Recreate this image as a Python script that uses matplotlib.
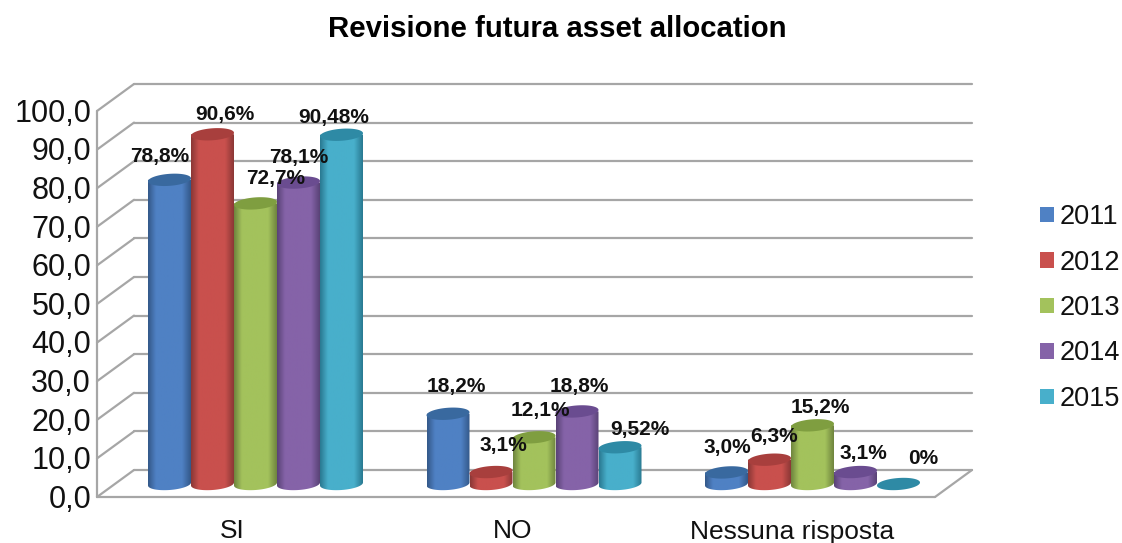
import numpy as np
import matplotlib
matplotlib.use("Agg")
import matplotlib.pyplot as plt
from matplotlib.colors import LinearSegmentedColormap
from matplotlib.patches import Patch, Polygon

# ============================================================
# DATA
# ============================================================

categories = ["SI", "NO", "Nessuna risposta"]
years = ["2011", "2012", "2013", "2014", "2015"]

values_2011 = [78.8, 18.2, 3.0]
values_2012 = [90.6, 3.1, 6.3]
values_2013 = [72.7, 12.1, 15.2]
values_2014 = [78.1, 18.8, 3.1]
values_2015 = [90.48, 9.52, 0.0]

labels_2011 = ["78,8%", "18,2%", "3,0%"]
labels_2012 = ["90,6%", "3,1%", "6,3%"]
labels_2013 = ["72,7%", "12,1%", "15,2%"]
labels_2014 = ["78,1%", "18,8%", "3,1%"]
labels_2015 = ["90,48%", "9,52%", "0%"]

y_ticks = [0, 10, 20, 30, 40, 50, 60, 70, 80, 90, 100]
y_tick_labels = ["0,0", "10,0", "20,0", "30,0", "40,0", "50,0",
                 "60,0", "70,0", "80,0", "90,0", "100,0"]

all_values = [values_2011, values_2012, values_2013, values_2014, values_2015]
all_labels = [labels_2011, labels_2012, labels_2013, labels_2014, labels_2015]

# ============================================================
# STYLE
# ============================================================

plt.rcParams['font.family'] = ['Liberation Sans', 'DejaVu Sans']

body_colors = ['#4F81C4', '#C9504D', '#A3C25C', '#8563A8', '#48AFCB']
edge_colors = ['#34598A', '#8C3836', '#70863F', '#5A4377', '#2A7A92']
top_colors = ['#39699F', '#A83F3D', '#7F9E40', '#6A4C90', '#2E8AA5']

grid_color = '#A6A6A6'

# label offsets from the top of each bar, pixels (rows = years)
label_dx = [[-10, 8, 1], [12, 12, 5], [20, 6, 8], [0, 2, 8], [-8, 20, 25]]
label_dy = [[23, 27, 25], [20, 27, 23], [25, 27, 18], [25, 25, 19], [17, 18, 26]]

# ============================================================
# SCALES
# ============================================================

W, H = 1122, 543
group_px = 278.5
unit_px = 3.86
x0_px = 255.5
y0_px = 484.0

bar_w = 43.0 / group_px
ell_b = 6.0 / unit_px
ell_tilt = 1.5 / unit_px

x_left = (97 - x0_px) / group_px
x_right = (935 - x0_px) / group_px
depth_x = 37 / group_px
front_dy = -(497 - y0_px) / unit_px
back_dy = (y0_px - 470) / unit_px

fig = plt.figure(figsize=(W / 100, H / 100), dpi=100)
ax = fig.add_axes([0, 0, 1, 1])
ax.axis('off')
xlim = (-x0_px / group_px, (W - x0_px) / group_px)
ylim = (-(H - y0_px) / unit_px, y0_px / unit_px)

# ============================================================
# WALLS
# ============================================================

line_kw = dict(color=grid_color, lw=1.6, zorder=1, solid_capstyle='round')

for v in y_ticks:
    ax.plot([x_left + depth_x, x_right + depth_x], [v + back_dy, v + back_dy], **line_kw)
    ax.plot([x_left, x_left + depth_x], [v + front_dy, v + back_dy], **line_kw)

ax.plot([x_left, x_left], [front_dy, 100 + front_dy], **line_kw)
ax.plot([x_left, x_right], [front_dy, front_dy], **line_kw)
ax.plot([x_right, x_right + depth_x], [front_dy, back_dy], **line_kw)

for v, lab in zip(y_ticks, y_tick_labels):
    ax.text(x_left - 6 / group_px, v + front_dy - 0.7, lab, ha='right', va='center',
            fontsize=22, color='#111111')

for i, cat in enumerate(categories):
    ax.text((i * 280 - 23) / group_px, ylim[0] + 11.5 / unit_px, cat, ha='center', va='center',
            fontsize=19, color='#111111')

# ============================================================
# CYLINDERS
# ============================================================

t = np.linspace(0, 2 * np.pi, 120)
lower = t[60:]

for s in range(len(years)):
    cmap = LinearSegmentedColormap.from_list(
        'cyl', [edge_colors[s], body_colors[s], body_colors[s], edge_colors[s]])
    grad = np.interp(np.linspace(0, 1, 64), [0, 0.18, 0.8, 1], [0, 0.33, 0.67, 1])[None, :]

    for g in range(len(categories)):
        v = all_values[s][g]
        cx = g + (s - 2) * bar_w
        z = 3 + s

        if v > 0:
            xs = cx + bar_w / 2 * np.cos(lower)
            ys = ell_b * np.sin(lower) + ell_tilt * np.cos(lower)
            body_x = np.concatenate([xs, [cx + bar_w / 2, cx - bar_w / 2]])
            body_y = np.concatenate([ys, [v, v]])
            im = ax.imshow(grad, cmap=cmap, vmin=0, vmax=1, aspect='auto',
                           extent=(cx - bar_w / 2, cx + bar_w / 2, -ell_b * 1.5, v),
                           zorder=z, interpolation='bilinear')
            clip = Polygon(np.column_stack([body_x, body_y]), closed=True,
                           transform=ax.transData, facecolor='none', edgecolor='none')
            ax.add_patch(clip)
            im.set_clip_path(clip)

        top = np.column_stack([cx + bar_w / 2 * np.cos(t),
                               v + ell_b * np.sin(t) + ell_tilt * np.cos(t)])
        ax.add_patch(Polygon(top, closed=True, facecolor=top_colors[s],
                             edgecolor='none', zorder=z + 0.5))

# ============================================================
# DATA LABELS
# ============================================================

for s in range(len(years)):
    for g in range(len(categories)):
        ax.annotate(all_labels[s][g],
                    xy=(g + (s - 2) * bar_w, all_values[s][g]),
                    xytext=(label_dx[s][g], label_dy[s][g]),
                    textcoords='offset pixels',
                    ha='center', va='center', fontsize=15,
                    fontweight='bold', color='#111111', zorder=20)

# ============================================================
# LEGEND, TITLE
# ============================================================

handles = [Patch(facecolor=c, edgecolor='none', label=y)
           for c, y in zip(body_colors, years)]
ax.legend(handles=handles, loc='center left',
          bbox_to_anchor=(1040 / W, 1 - 308 / H), bbox_transform=fig.transFigure,
          frameon=False, fontsize=19.5, handlelength=0.52, handleheight=0.52,
          handletextpad=0.2, labelspacing=0.72, borderpad=0, borderaxespad=0,
          labelcolor='#111111')

fig.text(557 / W, 1 - 29 / H, "Revisione futura asset allocation", ha='center', va='center',
         fontsize=21.2, fontweight='bold', color='black')

ax.set_xlim(xlim)
ax.set_ylim(ylim)

# ============================================================
# SAVE
# ============================================================

fig.savefig("out.png", dpi=100)
